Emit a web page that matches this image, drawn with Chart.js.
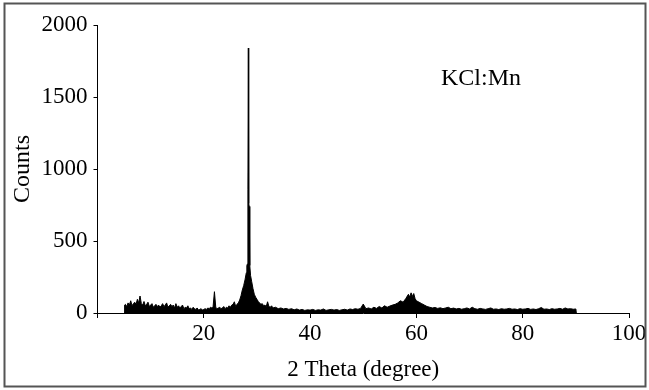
<!DOCTYPE html>
<html>
<head>
<meta charset="utf-8">
<script src="https://cdn.jsdelivr.net/npm/chart.js@4"></script>
<style>
html,body{margin:0;padding:0;background:#fff;}
#wrap{position:relative;width:649px;height:390px;}
</style>
</head>
<body>
<div id="wrap"><canvas id="c" width="649" height="390"></canvas></div>
<script>
// 2-theta positions (degrees)
const theta = [
 5.0,5.1,5.25,5.5,5.75,6.0,6.25,6.5,6.75,7.0,7.25,7.5,7.75,8.0,8.25,8.5,8.75,9.0,9.25,9.5,9.75,
 10.0,10.25,10.5,10.75,11.0,11.25,11.5,11.75,12.0,12.25,12.5,12.75,13.0,13.25,13.5,13.75,14.0,14.25,14.5,14.75,
 15.0,15.25,15.5,15.75,16.0,16.25,16.5,16.75,17.0,17.25,17.5,17.75,18.0,18.25,18.5,18.75,19.0,19.25,19.5,19.75,
 20.0,20.25,20.5,20.75,21.0,21.25,21.5,21.75,22.0,22.25,22.5,22.75,23.0,23.25,23.5,23.75,24.0,24.25,24.5,24.75,
 25.0,25.25,25.5,25.75,26.0,26.25,26.5,26.75,27.0,27.25,27.5,27.75,28.0,28.1,28.2,28.3,28.38,28.45,28.55,28.65,28.8,
 29.0,29.25,29.5,29.75,30.0,30.25,30.5,30.75,31.0,31.25,31.5,31.75,32.0,32.25,32.5,32.75,33.0,33.5,34.0,34.5,
 35.0,35.5,36.0,36.5,37.0,37.5,38.0,38.5,39.0,39.5,40.0,40.5,41.0,41.5,42.0,42.5,43.0,43.5,44.0,44.5,
 45.0,45.5,46.0,46.5,47.0,47.5,48.0,48.5,49.0,49.5,50.0,50.5,51.0,51.5,52.0,52.5,53.0,53.5,54.0,54.5,
 55.0,55.5,56.0,56.5,57.0,57.5,58.0,58.5,58.75,59.0,59.25,59.5,59.75,60.0,60.5,61.0,61.5,62.0,62.5,63.0,63.5,64.0,64.5,
 65.0,65.5,66.0,66.5,67.0,67.5,68.0,68.5,69.0,69.5,70.0,70.5,71.0,71.5,72.0,72.5,73.0,73.5,74.0,74.5,
 75.0,75.5,76.0,76.5,77.0,77.5,78.0,78.5,79.0,79.5,80.0,80.5,81.0,81.5,82.0,82.5,83.0,83.5,84.0,84.5,
 85.0,85.5,86.0,86.5,87.0,87.5,88.0,88.5,89.0,89.5,90.0,90.1
];
// Intensity (counts)
const counts = [
 0,55,60,45,70,55,85,50,65,75,60,95,70,118,65,55,80,50,60,75,45,
 55,65,40,50,60,45,55,40,50,65,45,55,70,40,50,60,45,55,35,65,
 40,50,35,45,55,30,40,35,50,30,35,25,40,30,25,35,20,25,30,20,
 25,30,25,35,30,40,35,45,148,40,30,35,40,30,35,45,30,40,35,50,
 40,55,60,78,45,60,70,90,120,160,190,230,280,330,340,860,1840,760,740,330,260,
 220,170,130,110,95,80,70,60,65,50,55,45,78,45,40,50,35,40,30,35,
 28,32,25,30,22,28,20,25,18,22,20,25,18,22,20,28,18,22,25,20,
 24,18,22,26,20,28,24,30,26,32,62,30,35,28,40,32,45,35,50,40,
 48,55,60,70,85,75,100,130,110,140,115,135,100,85,75,65,55,45,40,35,38,32,36,
 30,35,40,30,34,28,32,26,30,35,28,40,30,26,32,28,25,30,35,26,
 28,24,30,26,28,32,26,28,24,30,26,28,32,25,28,24,30,38,26,28,
 24,30,26,28,32,26,35,28,30,26,28,0
];
const xTickValues = [0,20,40,60,80,100];
const yTickValues = [0,500,1000,1500,2000];
const xTitle = '2 Theta (degree)';
const yTitle = 'Counts';
const sampleLabel = 'KCl:Mn';

const points = theta.map((t,i)=>({x:t,y:counts[i]}));
const FONT = 'Liberation Serif';

const framePlugin = {
  id:'frame',
  beforeDraw(chart){
    const ctx = chart.ctx;
    ctx.save();
    ctx.fillStyle='#fff';
    ctx.fillRect(0,0,chart.width,chart.height);
    ctx.restore();
  },
  afterDraw(chart){
    const ctx = chart.ctx;
    ctx.save();
    ctx.strokeStyle='#555';
    ctx.lineWidth=2;
    ctx.strokeRect(4.5,3.5,641,383);
    ctx.fillStyle='#000';
    ctx.font = '24px "'+FONT+'"';
    ctx.textBaseline='alphabetic';
    ctx.textAlign='left';
    ctx.fillText(sampleLabel, 441, 85);
    ctx.restore();
  }
};

new Chart(document.getElementById('c'), {
  type:'line',
  data:{datasets:[{
    data:points,
    borderColor:'#000',
    backgroundColor:'#000',
    borderWidth:1,
    pointRadius:0,
    tension:0,
    fill:'origin'
  }]},
  options:{
    responsive:false,
    animation:false,
    devicePixelRatio:1,
    layout:{padding:{left:8,right:20,top:25,bottom:6}},
    plugins:{legend:{display:false},tooltip:{enabled:false}},
    scales:{
      x:{
        type:'linear',min:0,max:100,
        afterBuildTicks(s){s.ticks = xTickValues.map(v=>({value:v}));},
        afterFit(s){s.height = 71;},
        ticks:{font:{family:FONT,size:23},color:'#000',padding:2,maxRotation:0,
          callback:v=> v===0 ? '' : String(v)},
        grid:{display:true,drawOnChartArea:false,drawTicks:true,tickLength:5,color:'#000'},
        border:{display:true,color:'#000',width:1},
        title:{display:true,text:xTitle,font:{family:FONT,size:23},color:'#000',padding:{top:3,bottom:0}}
      },
      y:{
        type:'linear',min:0,max:2000,
        afterBuildTicks(s){s.ticks = yTickValues.map(v=>({value:v}));},
        afterFit(s){s.width = 89.5;},
        ticks:{font:{family:FONT,size:23},color:'#000',padding:6,
          callback:v=> String(v)},
        grid:{display:true,drawOnChartArea:false,drawTicks:true,tickLength:4,color:'#000'},
        border:{display:true,color:'#000',width:1},
        title:{display:true,text:yTitle,font:{family:FONT,size:24},color:'#000',padding:{top:0,bottom:2}}
      }
    }
  },
  plugins:[framePlugin]
});
</script>
</body>
</html>
